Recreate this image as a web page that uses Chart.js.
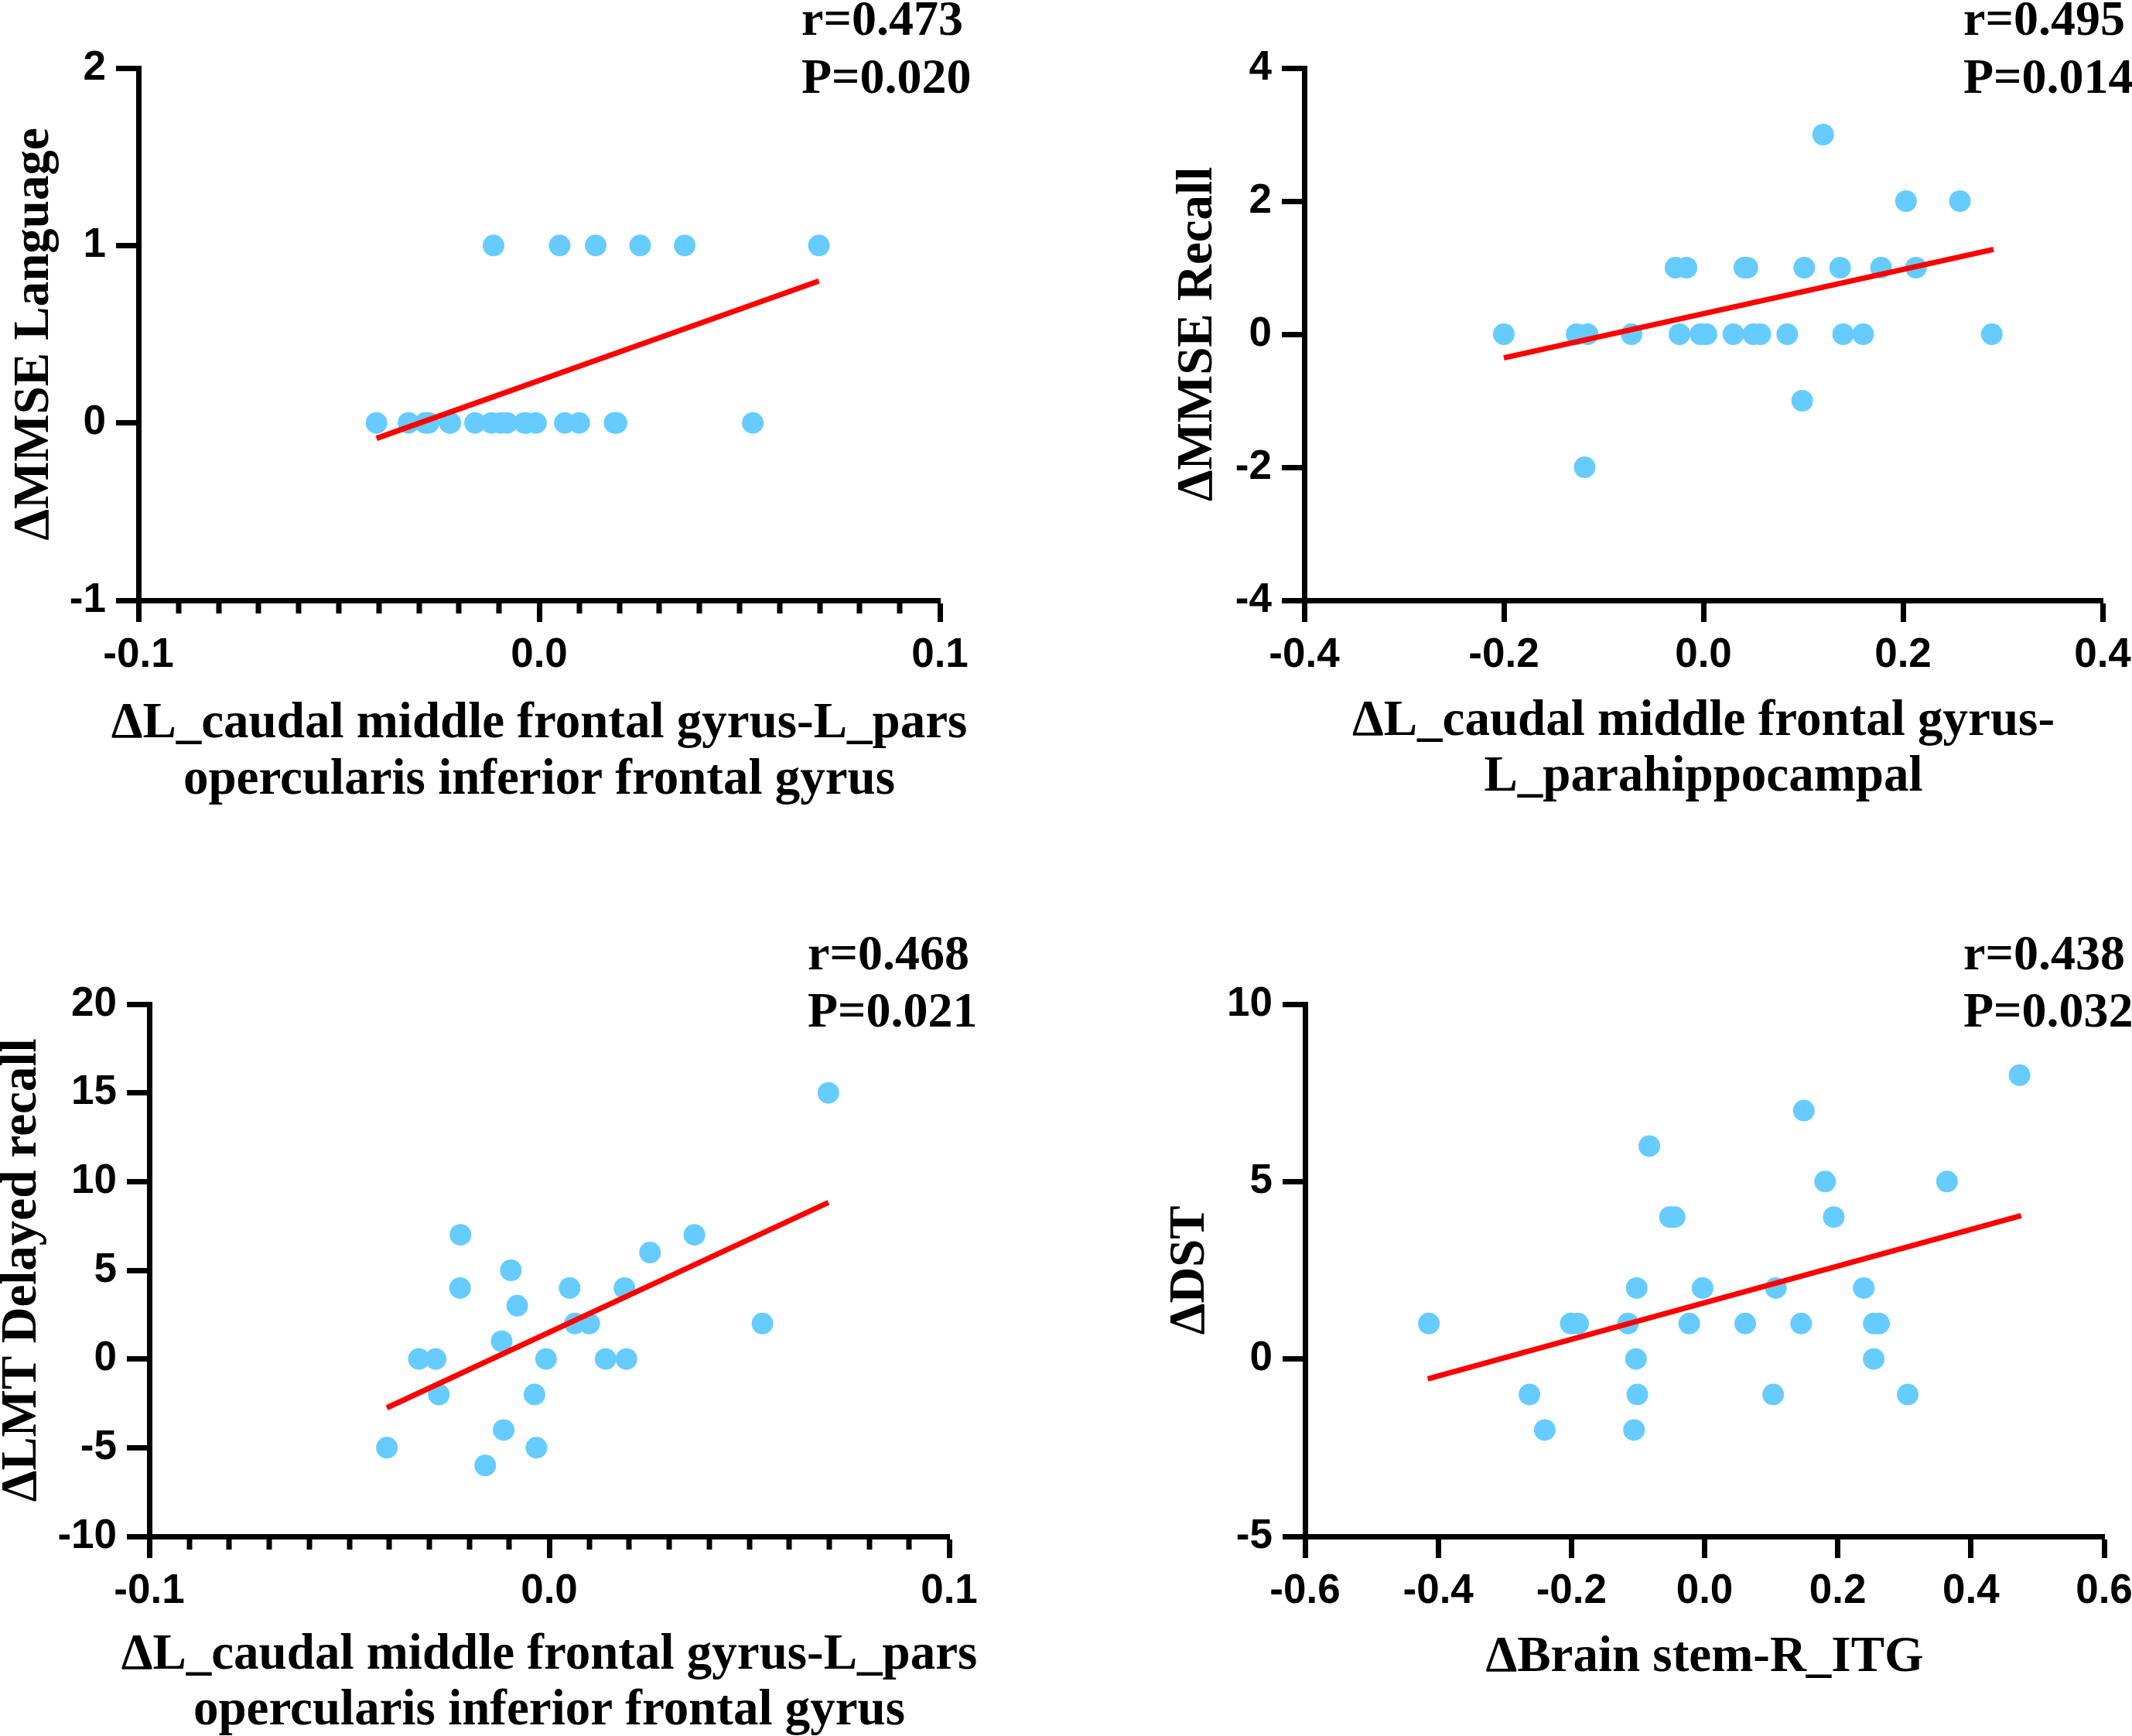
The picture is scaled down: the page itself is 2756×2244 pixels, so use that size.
<!DOCTYPE html>
<html>
<head>
<meta charset="utf-8">
<script src="https://cdn.jsdelivr.net/npm/chart.js@4/dist/chart.umd.min.js"></script>
<style>
  html, body { margin: 0; padding: 0; background: #fff; }
  #wrap { position: relative; width: 2756px; height: 2244px; overflow: hidden; }
  #wrap canvas { position: absolute; left: 0; top: 0; }
</style>
</head>
<body>
<div id="wrap">
  <canvas id="c1" width="2756" height="2244"></canvas>
  <canvas id="c2" width="2756" height="2244"></canvas>
  <canvas id="c3" width="2756" height="2244"></canvas>
  <canvas id="c4" width="2756" height="2244"></canvas>
</div>
<script>
// x for panels 1 and 3 (same connectivity measure)
const xParsOp = [-0.0406, -0.0326, -0.0284, -0.0276, -0.0223, -0.0222, -0.0160, -0.0119, -0.0114, -0.0096, -0.0080, -0.0037,
                 -0.0032, -0.0008, 0.0051, 0.0064, 0.0100, 0.0141, 0.0188, 0.0193, 0.0252, 0.0363, 0.0533, 0.0698];
const yLanguage = [0, 0, 0, 0, 0, 0, 0, 0, 1, 0, 0, 0, 0, 0, 1, 0, 0, 1, 0, 0, 1, 1, 0, 1];
const yDelayed = [-5, 0, 0, -2, 4, 7, -6, 1, -4, 5, 3, -2, -5, 0, 4, 2, 2, 0, 4, 0, 6, 7, 2, 15];

const xParahip = [-0.200, -0.127, -0.116, -0.119, -0.072, -0.028, -0.024, -0.017, -0.003, 0.003, 0.030, 0.041, 0.044, 0.050,
                  0.057, 0.084, 0.099, 0.101, 0.120, 0.137, 0.140, 0.160, 0.178, 0.203, 0.213, 0.257, 0.289];
const yRecall = [0, 0, 0, -2, 0, 1, 0, 1, 0, 0, 0, 1, 1, 0, 0, 0, -1, 1, 3, 1, 0, 0, 1, 2, 1, 2, 0];

const xBrainstem = [-0.414, -0.263, -0.240, -0.201, -0.190, -0.115, -0.106, -0.103, -0.102, -0.101, -0.083, -0.052, -0.045,
                    -0.023, -0.003, 0.061, 0.103, 0.107, 0.145, 0.149, 0.181, 0.194, 0.239, 0.254, 0.254, 0.262, 0.305, 0.364, 0.473];
const yDST = [1, -1, -2, 1, 1, 1, -2, 0, 2, -1, 6, 4, 4, 1, 2, 1, -1, 2, 1, 7, 5, 4, 2, 1, 0, 1, -1, 5, 8];

// regression line ends
const fitLanguage = [[-0.0406, -0.087], [0.0698, 0.80]];
const fitRecall = [[-0.200, -0.357], [0.2907, 1.274]];
const fitDelayed = [[-0.0406, -2.75], [0.0698, 8.82]];
const fitDST = [[-0.4157, -0.563], [0.4753, 4.04]];

const statsLanguage = ['r=0.473', 'P=0.020'];
const statsRecall = ['r=0.495', 'P=0.014'];
const statsDelayed = ['r=0.468', 'P=0.021'];
const statsDST = ['r=0.438', 'P=0.032'];

const DOT = '#66CCFF';
const FIT = '#FF0000';
const TICK_FONT = { family: "'Liberation Sans', Arial, sans-serif", size: 53, weight: 'bold' };
const TITLE_FONT = "bold 65px 'Liberation Serif', 'Times New Roman', serif";
const STATS_FONT = "bold 64px 'Liberation Serif', 'Times New Roman', serif";

Chart.defaults.animation = false;
Chart.defaults.color = '#000';

// axis titles, r/P text and the short minor ticks
const panelDecor = {
  id: 'panelDecor',
  afterDraw(chart, args, o) {
    const ctx = chart.ctx;
    const { left, right, top, bottom } = chart.chartArea;
    ctx.save();
    if (o.minor) {
      const sx = chart.scales.x;
      ctx.strokeStyle = '#000';
      ctx.lineWidth = 7;
      sx.ticks.forEach(t => {
        if (isMajor(t.value, o.major)) return;
        const px = Math.round(sx.getPixelForValue(t.value));
        ctx.beginPath();
        ctx.moveTo(px, bottom);
        ctx.lineTo(px, bottom + 17);
        ctx.stroke();
      });
    }
    ctx.fillStyle = '#000';
    ctx.textBaseline = 'alphabetic';
    ctx.font = STATS_FONT;
    ctx.textAlign = 'left';
    o.stats.forEach((line, i) => ctx.fillText(line, o.statsX, o.statsY[i]));
    ctx.font = TITLE_FONT;
    ctx.textAlign = 'center';
    o.xTitle.forEach((line, i) => ctx.fillText(line, (left + right) / 2, o.xTitleY[i]));
    ctx.translate(o.yTitleX, (top + bottom) / 2);
    ctx.rotate(-Math.PI / 2);
    ctx.fillText(o.yTitle, 0, 0);
    ctx.restore();
  }
};

function isMajor(v, step) {
  const k = v / step;
  return Math.abs(k - Math.round(k)) < 1e-6;
}

function makePanel(id, p) {
  const pts = p.x.map((x, i) => ({ x, y: p.y[i] }));
  const fit = p.fit.map(([x, y]) => ({ x, y }));
  const yw = Math.min(p.area[0], 200);   // y scale box width (labels are clipped to it)
  new Chart(document.getElementById(id), {
    type: 'scatter',
    data: {
      datasets: [
        { type: 'line', data: fit, borderColor: FIT, borderWidth: 7, pointRadius: 0, fill: false, tension: 0 },
        { data: pts, backgroundColor: DOT, borderWidth: 0, pointRadius: 14, pointHoverRadius: 14 }
      ]
    },
    options: {
      responsive: false,
      devicePixelRatio: 1,
      layout: {
        padding: { left: p.area[0] - yw, right: 2756 - p.area[1], top: p.area[2], bottom: 2244 - p.area[3] - 110 }
      },
      plugins: {
        legend: { display: false },
        tooltip: { enabled: false },
        panelDecor: {
          minor: p.minor, major: p.major, xTitle: p.xTitle, xTitleY: p.xTitleY,
          yTitle: p.yTitle, yTitleX: p.yTitleX, stats: p.stats, statsX: p.statsX, statsY: p.statsY
        }
      },
      scales: {
        x: {
          min: p.xRange[0], max: p.xRange[1],
          afterFit(s) { s.height = 110; s.paddingLeft = 0; s.paddingRight = 0; },
          border: { display: true, color: '#000', width: 7 },
          grid: {
            drawOnChartArea: false, drawTicks: true, tickLength: 28, tickWidth: 7,
            tickColor: c => (c.tick && isMajor(c.tick.value, p.major)) ? '#000' : 'rgba(0,0,0,0)'
          },
          ticks: {
            stepSize: p.minor || p.major, autoSkip: false, maxRotation: 0, minRotation: 0,
            padding: 12, color: '#000', font: TICK_FONT,
            callback: v => isMajor(v, p.major) ? v.toFixed(1) : ''
          }
        },
        y: {
          min: p.yRange[0], max: p.yRange[1],
          afterFit(s) { s.width = yw; s.paddingTop = 0; s.paddingBottom = 0; },
          border: { display: true, color: '#000', width: 7 },
          grid: { drawOnChartArea: false, drawTicks: true, tickLength: 29, tickWidth: 7, tickColor: '#000' },
          ticks: { stepSize: p.yStep, padding: 13, color: '#000', font: TICK_FONT }
        }
      }
    },
    plugins: [panelDecor]
  });
}

makePanel('c1', {
  x: xParsOp, y: yLanguage, fit: fitLanguage, stats: statsLanguage,
  area: [179, 1215, 88, 776], xRange: [-0.1, 0.1], major: 0.1, minor: 0.01, yRange: [-1, 2], yStep: 1,
  xTitle: ['\u0394L_caudal middle frontal gyrus-L_pars', 'opercularis inferior frontal gyrus'], xTitleY: [953, 1026],
  yTitle: '\u0394MMSE Language', yTitleX: 62, statsX: 1036, statsY: [45, 120]
});
makePanel('c2', {
  x: xParahip, y: yRecall, fit: fitRecall, stats: statsRecall,
  area: [1686, 2718, 88, 776], xRange: [-0.4, 0.4], major: 0.2, minor: 0, yRange: [-4, 4], yStep: 2,
  xTitle: ['\u0394L_caudal middle frontal gyrus-', 'L_parahippocampal'], xTitleY: [950, 1022],
  yTitle: '\u0394MMSE Recall', yTitleX: 1566, statsX: 2538, statsY: [45, 120]
});
makePanel('c3', {
  x: xParsOp, y: yDelayed, fit: fitDelayed, stats: statsDelayed,
  area: [193, 1227, 1298, 1986], xRange: [-0.1, 0.1], major: 0.1, minor: 0.01, yRange: [-10, 20], yStep: 5,
  xTitle: ['\u0394L_caudal middle frontal gyrus-L_pars', 'opercularis inferior frontal gyrus'], xTitleY: [2157, 2229],
  yTitle: '\u0394LMT Delayed recall', yTitleX: 46, statsX: 1044, statsY: [1253, 1327]
});
makePanel('c4', {
  x: xBrainstem, y: yDST, fit: fitDST, stats: statsDST,
  area: [1687, 2720, 1298, 1986], xRange: [-0.6, 0.6], major: 0.2, minor: 0, yRange: [-5, 10], yStep: 5,
  xTitle: ['\u0394Brain stem-R_ITG'], xTitleY: [2160],
  yTitle: '\u0394DST', yTitleX: 1556, statsX: 2538, statsY: [1253, 1327]
});
</script>
</body>
</html>
